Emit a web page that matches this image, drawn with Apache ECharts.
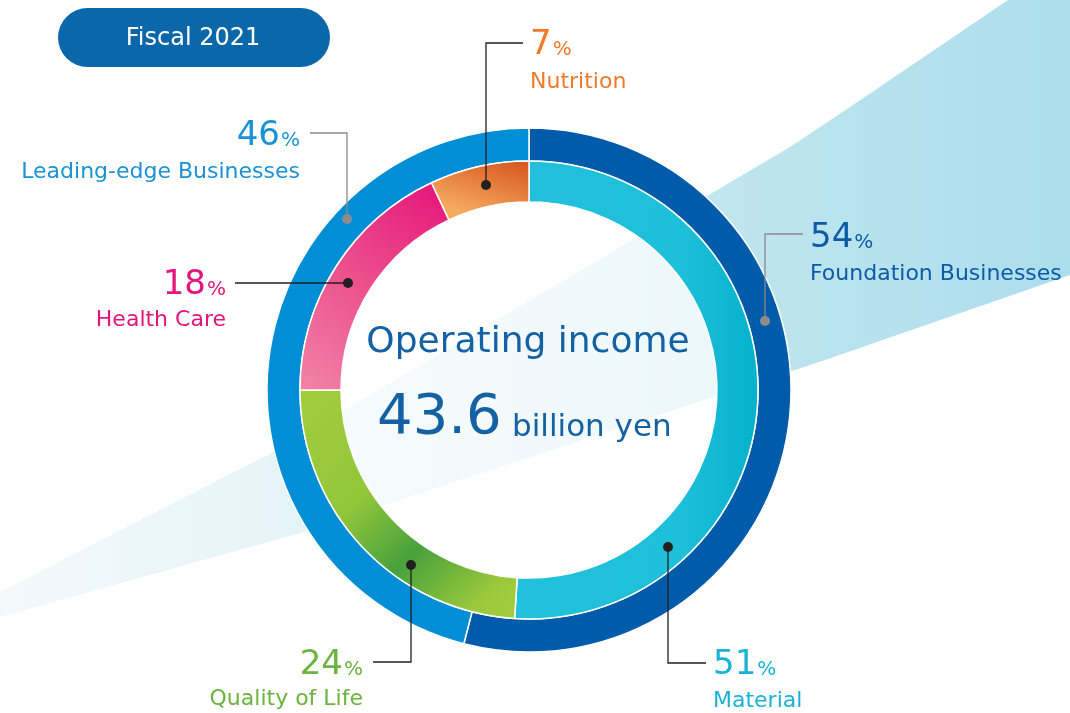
<!DOCTYPE html>
<html>
<head>
<meta charset="utf-8">
<script src="https://cdn.jsdelivr.net/npm/echarts@6/dist/echarts.min.js"></script>
<style>
html,body{margin:0;padding:0;background:#fff;}
#chart{width:1070px;height:713px;}
</style>
</head>
<body>
<div id="chart"></div>
<script>
// ---- data ----
const periodLabel = 'Fiscal 2021';
const centerTitle = 'Operating income';
const centerValue = '43.6';
const centerUnit = 'billion yen';
const outerNames = ['Foundation Businesses', 'Leading-edge Businesses'];
const outerValues = [54, 46];
const innerNames = ['Material', 'Quality of Life', 'Health Care', 'Nutrition'];
const innerValues = [51, 24, 18, 7];

// ---- styles / layout ----
const FONT = '"DejaVu Sans", sans-serif';
const CX = 529, CY = 390;
const outerColors = ['#005BAA', '#008ED6'];
const innerColors = [
  {type:'linear', x:0, y:0, x2:1, y2:0, colorStops:[{offset:0,color:'#22C1DB'},{offset:0.7,color:'#1DBFD9'},{offset:1,color:'#04B0CB'}]},
  {type:'linear', x:0, y:0, x2:1, y2:1, colorStops:[{offset:0,color:'#A2CD3C'},{offset:0.38,color:'#93C63B'},{offset:0.62,color:'#47A13C'},{offset:0.88,color:'#9CC93B'},{offset:1,color:'#A2CD3C'}]},
  {type:'linear', x:1, y:0, x2:0, y2:1, colorStops:[{offset:0,color:'#E5137A'},{offset:0.5,color:'#EC4E8C'},{offset:1,color:'#F284A6'}]},
  {type:'linear', x:0.8, y:0, x2:0.6, y2:1, colorStops:[{offset:0,color:'#D95A22'},{offset:1,color:'#F5AA5E'}]}
];
const outerText = ['#0D5BA8', '#1A92D4'];
const innerText = ['#1AB3D5', '#6CB33F', '#E5157C', '#EE7A2A'];

// label layout
const outerLayout = [
  {x:810, nb:250, tb:282, align:'left',  pts:[[803,234],[765,234],[765,321]], dot:[765,321], line:'#8A8A8A'},
  {x:300, nb:148, tb:180, align:'right', pts:[[310,133],[347,133],[347,219]], dot:[347,219], line:'#8A8A8A'}
];
const innerLayout = [
  {x:713, nb:677, tb:709, align:'left',  pts:[[668,547],[668,663],[706,663]], dot:[668,547], line:'#231F20'},
  {x:363, nb:677, tb:707, align:'right', pts:[[411,565],[411,662],[373,662]], dot:[411,565], line:'#231F20'},
  {x:226, nb:297, tb:328, align:'right', pts:[[348,283],[235,283]], dot:[348,283], line:'#231F20'},
  {x:530, nb:57,  tb:90,  align:'left',  pts:[[486,185],[486,43],[523,43]], dot:[486,185], line:'#231F20'}
];

const mctx = document.createElement('canvas').getContext('2d');
function measure(str, fs){ mctx.font = fs + 'px ' + FONT; return mctx.measureText(str).width; }
function txt(x, base, str, fs, color, align, z){
  return {type:'text', x:x, y: base - 0.346*fs, z: z||20, silent:true,
    style:{text:str, font: fs + 'px ' + FONT, fill:color, textAlign:align, textVerticalAlign:'middle'}};
}

const graphics = [];
// background beam
graphics.push({type:'polygon', z:-20, silent:true,
  shape:{points:[[0,592],[140,520],[268,455],[790,147],[850,107],[1008,0],[1070,0],[1070,275],[825,360],[300,533],[0,617]]},
  style:{fill:{type:'linear', x:0, y:0, x2:1070, y2:0, global:true,
    colorStops:[{offset:0,color:'#F4FAFC'},{offset:0.3,color:'#E3F3F8'},{offset:0.7,color:'#BEE5EF'},{offset:1,color:'#ACDEEB'}]}}});
// translucent centre disc
graphics.push({type:'circle', z:-10, silent:true, shape:{cx:CX, cy:CY, r:189}, style:{fill:'rgba(255,255,255,0.7)'}});
// period pill
graphics.push({type:'rect', z:5, silent:true, shape:{x:58, y:8, width:272, height:59, r:29.5}, style:{fill:'#0A67A9'}});
graphics.push(txt(193, 47, periodLabel, 24, '#FFFFFF', 'center', 6));
// centre texts
graphics.push(txt(528, 355, centerTitle, 36, '#1461A3', 'center'));
graphics.push(txt(377, 438, centerValue, 56, '#1461A3', 'left'));
graphics.push(txt(512, 439, centerUnit, 31, '#1461A3', 'left'));

function addLabel(lay, value, name, color, isOuter){
  const numFs = 34, pctFs = 20, nameFs = 22;
  const numStr = String(value), pctStr = '%';
  const nw = measure(numStr, numFs), pw = measure(pctStr, pctFs);
  const nx = lay.align === 'left' ? lay.x : lay.x - pw - nw - 1;
  graphics.push(txt(nx, lay.nb, numStr, numFs, color, 'left'));
  graphics.push(txt(nx + nw + 1, lay.nb, pctStr, pctFs, color, 'left'));
  graphics.push(txt(lay.x, lay.tb, name, nameFs, color, lay.align));
  graphics.push({type:'polyline', z:30, silent:true, shape:{points:lay.pts}, style:{stroke:lay.line, lineWidth:1.3, fill:null}});
  graphics.push({type:'circle', z:31, silent:true, shape:{cx:lay.dot[0], cy:lay.dot[1], r:5}, style:{fill: isOuter ? '#8C8C8C' : '#231F20'}});
}
outerNames.forEach((n,i)=>addLabel(outerLayout[i], outerValues[i], n, outerText[i], true));
innerNames.forEach((n,i)=>addLabel(innerLayout[i], innerValues[i], n, innerText[i], false));

const chart = echarts.init(document.getElementById('chart'), null, {renderer:'canvas'});
chart.setOption({
  animation:false,
  backgroundColor:'#FFFFFF',
  series:[
    {type:'pie', silent:true, center:[CX, CY], radius:[229, 262], startAngle:90, clockwise:true,
      label:{show:false}, labelLine:{show:false},
      itemStyle:{borderColor:'#FFFFFF', borderWidth:1.5},
      data: outerNames.map((n,i)=>({name:n, value:outerValues[i], itemStyle:{color:outerColors[i]}}))},
    {type:'pie', silent:true, center:[CX, CY], radius:[188, 229], startAngle:90, clockwise:true,
      label:{show:false}, labelLine:{show:false},
      itemStyle:{borderColor:'#FFFFFF', borderWidth:1.5},
      data: innerNames.map((n,i)=>({name:n, value:innerValues[i], itemStyle:{color:innerColors[i]}}))}
  ],
  graphic:{elements:graphics}
});
</script>
</body>
</html>
